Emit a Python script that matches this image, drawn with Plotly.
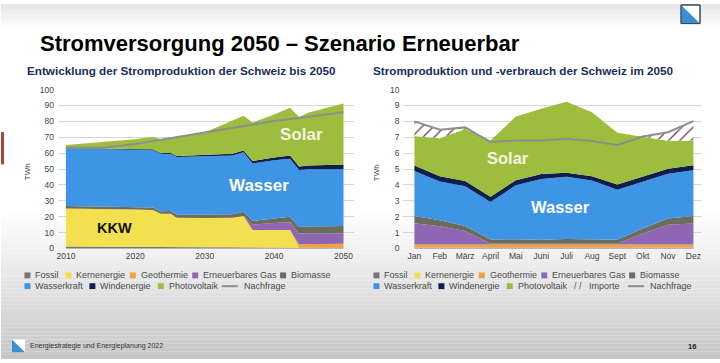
import plotly.graph_objects as go

W, H = 720, 363
FONT = "Liberation Sans, Arial, Helvetica, sans-serif"

# ---------------- data: left chart (TWh per year) ----------------
years = [2010, 2015, 2020, 2022.5, 2023.7, 2025.1, 2026.0, 2030, 2034, 2035.6,
         2036.9, 2040, 2042.3, 2043.6, 2045, 2050]
fossil = [1.2, 1.2, 1.1, 1.0, 1.0, 1.0, 0.9, 0.8, 0.7, 0.7, 0.6, 0.5, 0.5, 0.4, 0.4, 0.3]
kernenergie = [24.0, 23.8, 23.4, 23.2, 20.8, 20.8, 18.4, 18.4, 18.7, 19.8, 11.0, 11.1, 11.2, 0, 0, 0]
geothermie = [0, 0, 0, 0, 0, 0, 0, 0, 0, 0, 0, 0, 0, 2.3, 2.4, 2.6]
ern_gas = [0, 0, 0, 0, 0, 0, 0, 0, 0, 0, 3.4, 4.4, 4.8, 6.8, 6.8, 6.6]
biomasse = [1.5, 1.5, 1.6, 1.6, 1.7, 1.8, 1.9, 2.0, 2.2, 2.6, 2.3, 2.9, 3.5, 4.0, 4.3, 4.6]
wasserkraft = [36.1, 35.9, 36.0, 36.2, 36.1, 35.9, 36.3, 36.6, 36.9, 37.4, 36.2, 36.6, 36.4, 35.9, 35.9, 35.8]
windenergie = [0.3, 0.3, 0.3, 0.4, 0.5, 0.6, 0.7, 0.9, 1.1, 1.2, 1.5, 1.8, 2.1, 2.2, 2.5, 3.0]
photovoltaik = [2.1, 4.1, 6.4, 7.9, 8.6, 9.4, 11.8, 14.3, 20.9, 21.9, 24.2, 27.0, 30.1, 31.2, 33.2, 38.4]
demand_years = [2010, 2015, 2020, 2025, 2030, 2035, 2040, 2045, 2050]
nachfrage = [63.6, 63.3, 65.8, 69.3, 72.7, 76.6, 80.3, 83.2, 85.8]
year_ticks = [2010, 2020, 2030, 2040, 2050]

# ---------------- data: right chart (TWh per month, 2050) ----------------
months = ["Jan", "Feb", "März", "April", "Mai", "Juni", "Juli", "Aug", "Sept", "Okt", "Nov", "Dez"]
m_fossil = [0.05, 0.05, 0.05, 0.05, 0.05, 0.05, 0.05, 0.05, 0.05, 0.05, 0.05, 0.05]
m_kernenergie = [0, 0, 0, 0, 0, 0, 0, 0, 0, 0, 0, 0]
m_geothermie = [0.2, 0.2, 0.2, 0.2, 0.2, 0.2, 0.2, 0.2, 0.2, 0.2, 0.2, 0.2]
m_ern_gas = [1.33, 1.15, 0.85, 0.07, 0.05, 0.05, 0.05, 0.05, 0.05, 0.7, 1.25, 1.32]
m_biomasse = [0.47, 0.38, 0.32, 0.24, 0.28, 0.25, 0.3, 0.28, 0.25, 0.3, 0.38, 0.48]
m_wasserkraft = [2.83, 2.44, 2.5, 2.36, 3.4, 3.82, 3.92, 3.7, 3.15, 2.93, 2.82, 2.87]
m_windenergie = [0.34, 0.33, 0.33, 0.33, 0.32, 0.31, 0.25, 0.27, 0.32, 0.32, 0.32, 0.32]
m_photovoltaik = [1.86, 2.38, 3.27, 3.55, 4.0, 4.12, 4.46, 4.03, 3.26, 2.55, 1.76, 1.54]
m_nachfrage = [8.0, 7.47, 7.62, 6.7, 6.8, 6.8, 6.9, 6.77, 6.5, 7.05, 7.32, 8.02]

series_names = ["Fossil", "Kernenergie", "Geothermie", "Erneuerbares Gas", "Biomasse",
                "Wasserkraft", "Windenergie", "Photovoltaik"]
colors = ["#767676", "#f3e04e", "#eda33f", "#8e66b4", "#6c6c5c", "#3e95e6", "#0e1f4d", "#9cbd3e"]
LINE_C = "#8e8e8e"
HATCH_C = "#6e3c4a"

left_series = [fossil, kernenergie, geothermie, ern_gas, biomasse, wasserkraft, windenergie, photovoltaik]
right_series = [m_fossil, m_kernenergie, m_geothermie, m_ern_gas, m_biomasse, m_wasserkraft,
                m_windenergie, m_photovoltaik]
mx = list(range(len(months)))


def px(x):
    return x / W


def py(y):
    return 1 - y / H


fig = go.Figure()

for name, vals, col in zip(series_names, left_series, colors):
    fig.add_trace(go.Scatter(x=years, y=vals, stackgroup="L", mode="lines", name=name,
                             line=dict(width=0, color=col), fillcolor=col,
                             showlegend=False, xaxis="x", yaxis="y"))
fig.add_trace(go.Scatter(x=demand_years, y=nachfrage, mode="lines", name="Nachfrage",
                         line=dict(width=2, color=LINE_C), showlegend=False,
                         xaxis="x", yaxis="y"))

for name, vals, col in zip(series_names, right_series, colors):
    fig.add_trace(go.Scatter(x=mx, y=vals, stackgroup="R", mode="lines", name=name,
                             line=dict(width=0, color=col), fillcolor=col,
                             showlegend=False, xaxis="x2", yaxis="y2"))

total_prod = [sum(s[i] for s in right_series) for i in mx]
import_top = [max(t, d) for t, d in zip(total_prod, m_nachfrage)]
fig.add_trace(go.Scatter(x=mx, y=total_prod, mode="lines", line=dict(width=0),
                         showlegend=False, hoverinfo="skip", xaxis="x2", yaxis="y2"))
fig.add_trace(go.Scatter(x=mx, y=import_top, mode="lines", name="Importe", fill="tonexty",
                         line=dict(width=0), fillcolor="white",
                         fillpattern=dict(shape="/", fgcolor=HATCH_C, bgcolor="white",
                                          size=8, solidity=0.16, fillmode="replace"),
                         showlegend=False, xaxis="x2", yaxis="y2"))
fig.add_trace(go.Scatter(x=mx, y=m_nachfrage, mode="lines", name="Nachfrage",
                         line=dict(width=2, color=LINE_C), showlegend=False,
                         xaxis="x2", yaxis="y2"))

shapes = []
# background gradient bands
for i in range(13):
    y0 = i * 2
    c = int(230 + 25 * i / 12)
    shapes.append(dict(type="rect", xref="paper", yref="paper", x0=0, x1=1,
                       y0=py(y0 + 2), y1=py(y0), fillcolor=f"rgb({c},{c},{c})",
                       line=dict(width=0), layer="below"))
steps = 38
for i in range(steps):
    y0 = 211 + i * 4
    t = (i + 0.5) / steps
    c = int(255 - 57 * t ** 1.1)
    shapes.append(dict(type="rect", xref="paper", yref="paper", x0=0, x1=1,
                       y0=py(min(y0 + 4, H)), y1=py(y0), fillcolor=f"rgb({c},{c},{c})",
                       line=dict(width=0), layer="below"))
# red marker on left edge
shapes.append(dict(type="rect", xref="paper", yref="paper", x0=0, x1=px(3), y0=py(164), y1=py(131),
                   fillcolor="#9c4a3c", line=dict(width=0)))


def logo(x0, y0, s, border):
    out = [dict(type="rect", xref="paper", yref="paper", x0=px(x0), x1=px(x0 + s),
                y0=py(y0 + s), y1=py(y0), fillcolor="white",
                line=dict(width=1 if border else 0, color="#34495e"))]
    path = (f"M {px(x0)} {py(y0)} L {px(x0)} {py(y0 + s)} L {px(x0 + s)} {py(y0 + s)} Z")
    out.append(dict(type="path", xref="paper", yref="paper", path=path,
                    fillcolor="#3a8fd3", line=dict(width=0)))
    if border:
        out.append(dict(type="rect", xref="paper", yref="paper", x0=px(x0), x1=px(x0 + s),
                        y0=py(y0 + s), y1=py(y0), line=dict(width=1, color="#34495e")))
    return out


shapes += logo(681, 1, 19, True)
shapes += logo(11, 343, 13, False)

annotations = []


def text(x, y, t, size, color="#444", anchor="left", bold=False, xref="paper", yref="paper",
         angle=0):
    annotations.append(dict(x=x, y=y, xref=xref, yref=yref, text=f"<b>{t}</b>" if bold else t,
                            showarrow=False, xanchor=anchor, yanchor="middle", textangle=angle,
                            font=dict(family=FONT, size=size, color=color)))


text(px(37), py(40), "Stromversorgung 2050 – Szenario Erneuerbar", 22, "#000", bold=True)
text(px(24), py(68), "Entwicklung der Stromproduktion der Schweiz bis 2050", 11.7, "#1c2d5a", bold=True)
text(px(371), py(68), "Stromproduktion und -verbrauch der Schweiz im 2050", 11.7, "#1c2d5a", bold=True)
text(px(26), py(171), "TWh", 8, "#444", anchor="center", angle=-90)
text(px(375.5), py(172), "TWh", 8, "#444", anchor="center", angle=-90)

# in-chart labels
text(2017.05, 13.0, "KKW", 14.5, "#111", anchor="center", bold=True, xref="x", yref="y")
text(2037.8, 39.4, "Wasser", 17, "#ffffff", anchor="center", bold=True, xref="x", yref="y")
text(2044.0, 72.0, "Solar", 17, "#f4f4e2", anchor="center", bold=True, xref="x", yref="y")
text(3.7, 5.7, "Solar", 16.5, "#f4f4e2", anchor="center", bold=True, xref="x2", yref="y2")
text(5.75, 2.6, "Wasser", 16.5, "#ffffff", anchor="center", bold=True, xref="x2", yref="y2")

# legends (drawn manually)
row1 = [0, 1, 2, 3, 4]
row1_x = [23.5, 64.5, 129, 191.5, 279.5]
row2 = [5, 6, 7]
row2_x = [23.5, 88.5, 157]
R1, R2 = 277.5, 288.5
for off, is_right in [(0, False), (349.5, True)]:
    for idx, xx in zip(row1 + row2, row1_x + row2_x):
        yy = R1 if idx in row1 else R2
        x = xx + off
        shapes.append(dict(type="rect", xref="paper", yref="paper", x0=px(x), x1=px(x + 6),
                           y0=py(yy + 3), y1=py(yy - 3), fillcolor=colors[idx], line=dict(width=0)))
        text(px(x + 9), py(yy), series_names[idx], 9, "#4a4a4a")
    if is_right:
        text(px(571.5), py(R2), "/ /", 9, HATCH_C)
        text(px(586.5), py(R2), "Importe", 9, "#4a4a4a")
        lx = 628
    else:
        lx = 221
    shapes.append(dict(type="line", xref="paper", yref="paper", x0=px(lx), x1=px(lx + 16),
                       y0=py(R2), y1=py(R2), line=dict(color=LINE_C, width=2)))
    text(px(lx + 20), py(R2), "Nachfrage", 9, "#4a4a4a")

# footer
text(px(27), py(350), "Energiestrategie und Energieplanung 2022", 7, "#333")
text(px(698), py(350), "16", 7.5, "#222", anchor="right", bold=True)

ybot, ytop = 250.8, 86.7
axis_common = dict(showline=False, zeroline=False, ticks="", color="#444",
                   tickfont=dict(family=FONT, size=8.5, color="#444"))

fig.update_layout(
    width=W, height=H, margin=dict(l=0, r=0, t=0, b=0),
    paper_bgcolor="white", plot_bgcolor="rgba(0,0,0,0)",
    showlegend=False, hovermode=False, dragmode=False,
    xaxis=dict(domain=[px(57), px(353)], range=[2008.85, 2051.44], tickvals=year_ticks,
               showgrid=False, anchor="y", **axis_common),
    yaxis=dict(domain=[py(ybot), py(ytop)], range=[-0.5, 100.5], dtick=10, tick0=0,
               showgrid=True, gridcolor="#d6d6d6", gridwidth=1, anchor="x",
               ticklabelstandoff=3, **axis_common),
    xaxis2=dict(domain=[px(403), px(702)], range=[-0.433, 11.34], tickvals=mx, ticktext=months,
                showgrid=False, anchor="y2", **axis_common),
    yaxis2=dict(domain=[py(ybot), py(ytop)], range=[-0.05, 10.05], dtick=1, tick0=0,
                showgrid=True, gridcolor="#d6d6d6", gridwidth=1, anchor="x2",
                ticklabelstandoff=3, **axis_common),
    shapes=shapes, annotations=annotations,
    font=dict(family=FONT),
)

fig.write_html("out.html", config={"displayModeBar": False, "staticPlot": True},
               post_script="document.body.style.margin='0';document.body.style.overflow='hidden';")
